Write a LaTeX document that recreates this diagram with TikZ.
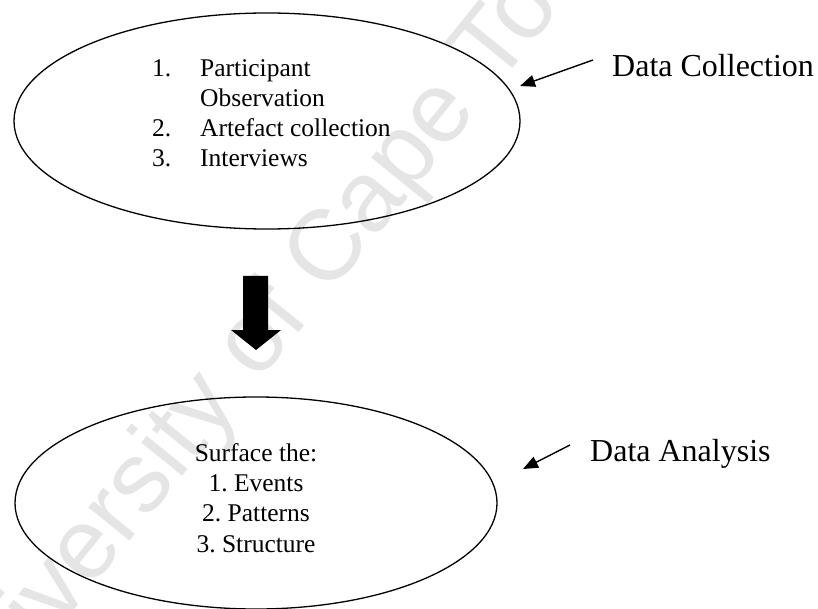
\documentclass[tikz,border=0pt]{standalone}
\usepackage{fontspec}
\setmainfont{Liberation Serif}
\newfontfamily\wmfont{Liberation Sans}
\usetikzlibrary{shapes.geometric,arrows.meta}
\frenchspacing

\tikzset{
  oval/.style={ellipse, draw=black, line width=1.3pt, inner sep=0pt},
  itemtext/.style={font=\fontsize{25.5}{30}\selectfont, inner sep=0pt},
  labeltext/.style={font=\fontsize{32}{38}\selectfont, inner sep=0pt, anchor=base west},
  pointer/.style={line width=1.4pt, -{Triangle[length=15pt,width=12pt]}},
  bigarrow/.style={fill=black, draw=none},
  watermark/.style={font=\wmfont\fontsize{100}{100}\selectfont, text=black!10, rotate=51, inner sep=0pt}
}

\begin{document}
\begin{tikzpicture}[x=1pt,y=-1pt]
  \useasboundingbox (0,0) rectangle (818,609);

  % faint watermark behind everything
  \node[watermark] (wm) at (284,310) {University of Cape Town};

  % data collection stage
  \node[oval, minimum width=506pt, minimum height=216pt] (collect) at (267,121) {};
  \node[itemtext, anchor=base west] (c1n) at (152,77) {1.};
  \node[itemtext, anchor=base west] (c1a) at (200,77) {Participant};
  \node[itemtext, anchor=base west] (c1b) at (200,107) {Observation};
  \node[itemtext, anchor=base west] (c2n) at (152,137) {2.};
  \node[itemtext, anchor=base west] (c2) at (200,137) {Artefact collection};
  \node[itemtext, anchor=base west] (c3n) at (152,167) {3.};
  \node[itemtext, anchor=base west] (c3) at (200,167) {Interviews};

  \node[labeltext] (dclabel) at (612,77) {Data Collection};
  \coordinate (dcfrom) at (593,60);
  \coordinate (dcto) at (520,86);
  \draw[pointer] (dcfrom) -- (dcto);

  % block arrow between the stages
  \fill[bigarrow] (243,276) -- (268,276) -- (268,330) -- (281,330)
                  -- (256,350) -- (231,330) -- (243,330) -- cycle;

  % data analysis stage
  \node[oval, minimum width=482pt, minimum height=212pt] (analyse) at (256,503) {};
  \node[itemtext, anchor=base] (a0) at (256,461) {Surface the:};
  \node[itemtext, anchor=base] (a1) at (256,491) {1. Events};
  \node[itemtext, anchor=base] (a2) at (256,521) {2. Patterns};
  \node[itemtext, anchor=base] (a3) at (256,552) {3. Structure};

  \node[labeltext] (dalabel) at (590,461) {Data Analysis};
  \coordinate (dafrom) at (570,445);
  \coordinate (dato) at (523,469);
  \draw[pointer] (dafrom) -- (dato);
\end{tikzpicture}
\end{document}
